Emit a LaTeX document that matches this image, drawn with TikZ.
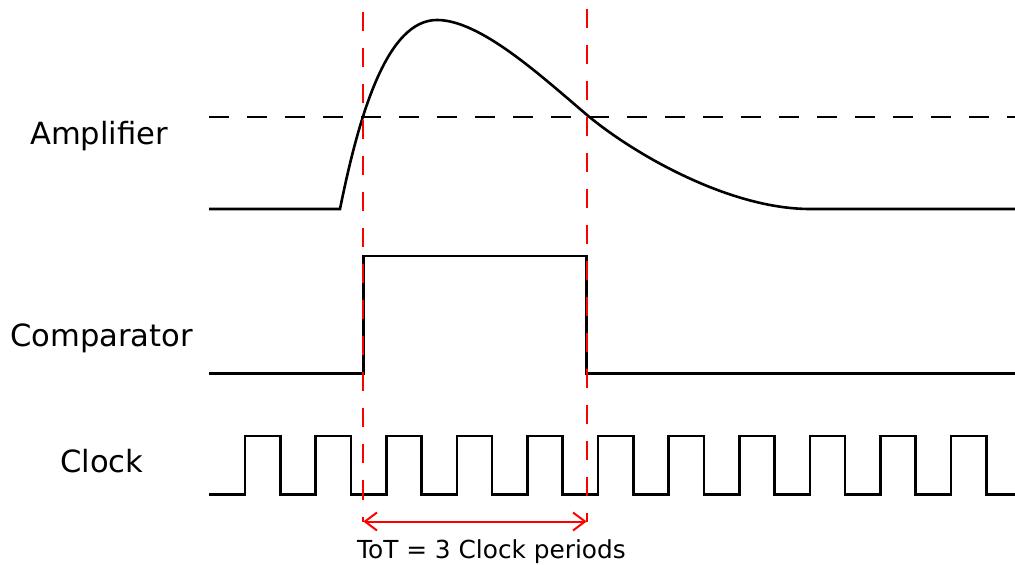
\documentclass[tikz,border=0pt]{standalone}
\usepackage{fontspec}
\setmainfont{DejaVu Sans}
\usetikzlibrary{arrows.meta, positioning}

\tikzset{
  signal/.style={black, line width=1.3pt, line join=miter},
  threshold/.style={black, line width=1.2pt, dash pattern=on 10pt off 9pt},
  marker/.style={red, line width=1pt, dash pattern=on 9.5pt off 8.5pt},
  span/.style={red, line width=1pt, {Straight Barb[length=6pt,width=9pt]}-{Straight Barb[length=6pt,width=9pt]}},
  label/.style={font=\fontsize{15.3}{18}\selectfont, anchor=base, inner sep=0pt}
}

\begin{document}
\begin{tikzpicture}[x=0.5pt, y=-0.5pt]
      \useasboundingbox (0,0) rectangle (1015,565);
      % Labels
      \node[label] (amp)  at (99,145)  {Amplifier};
      \node[label] (comp) at (101.5,346.7) {Comparator};
      \node[label] (clk)  at (101.7,473) {Clock};
      % Threshold
      \draw[threshold] (209,117) -- (1015,117);
      % Amplifier pulse
      \draw[signal] (209,209) -- (340,209)
        .. controls (360,110) and (388,20) .. (437,20)
        .. controls (480,20) and (540,75) .. (587,115)
        .. controls (635,155) and (730,209) .. (810,209)
        -- (1015,209);
      % Comparator
      \coordinate (up)   at (363.3,256);
      \coordinate (down) at (586.7,256);
      \draw[signal] (209,373.3) -- (363.3,373.3) -- (up) -- (down)
        -- (586.7,373.3) -- (1015,373.3);
      % Clock
      \draw[signal] (209,494.5)
        \foreach \k in {0,...,10}{
          -- ({245+70.6*\k},494.5) -- ({245+70.6*\k},436)
          -- ({280.3+70.6*\k},436) -- ({280.3+70.6*\k},494.5)
        } -- (1015,494.5);
      % Markers
      \coordinate (startT) at (363.3,12.5);
      \coordinate (stopT)  at (586.7,9);
      \coordinate (startB) at (363.3,521.5);
      \coordinate (stopB)  at (586.7,521.5);
      \draw[marker] (startT) -- (startB);
      \draw[marker] (stopT) -- (stopB);
      % ToT
      \draw[span] (startB) -- (stopB);
      \node[font=\fontsize{12.4}{15}\selectfont, anchor=base, inner sep=0pt]
        (tot) at (491.5,558.3) {ToT = 3 Clock periods};
\end{tikzpicture}
\end{document}
